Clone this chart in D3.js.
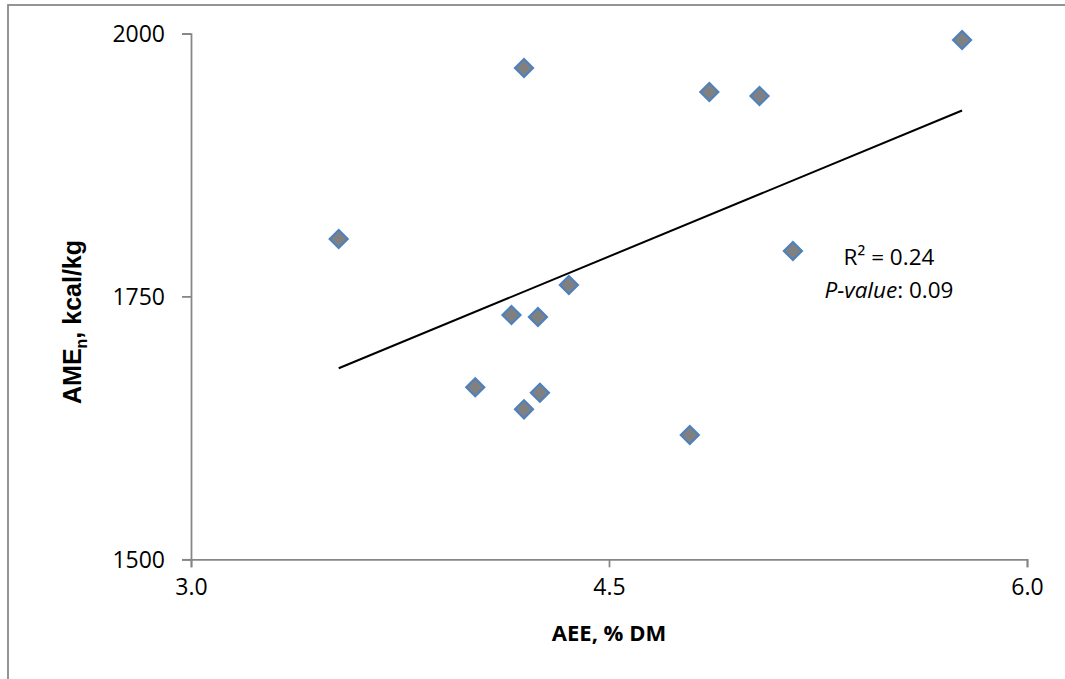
<!DOCTYPE html>
<html>
<head>
<meta charset="utf-8">
<script src="https://cdn.jsdelivr.net/npm/d3@7"></script>
<style>
  html, body { margin: 0; padding: 0; background: #fff; }
  svg { display: block; }
</style>
</head>
<body>
<svg id="chart" width="1065" height="679"></svg>
<script>
// Apparent ether extract (AEE, % DM) vs nitrogen-corrected AME (kcal/kg)
const aee  = [3.53, 4.02, 4.15, 4.195, 4.195, 4.245, 4.252, 4.356, 4.79, 4.86, 5.04, 5.16, 5.767];
const amen = [1804.6, 1663.6, 1732.3, 1967.2, 1642.6, 1730.4, 1658.4, 1760.8, 1618.2, 1944.4, 1940.6, 1793.2, 1993.8];

const xTicks = [3.0, 4.5, 6.0];
const yTicks = [1500, 1750, 2000];
const statLines = ["R² = 0.24", "P-value: 0.09"];

const svg = d3.select("#chart");
const W = 1065, H = 679;
const plot = { left: 191, right: 1027, top: 33.5, bottom: 559.3 };
const axisColor = "#868686";
const tickFont = "'Open Sans', sans-serif";

// outer chart frame
svg.append("rect")
  .attr("x", 8).attr("y", 5)
  .attr("width", W + 20).attr("height", H + 20)
  .attr("fill", "none").attr("stroke", axisColor).attr("stroke-width", 1.75);

const x = d3.scaleLinear().domain([3, 6]).range([plot.left, plot.right]);
const y = d3.scaleLinear().domain([1500, 2000]).range([plot.bottom, plot.top]);

// x axis
const xAxis = svg.append("g")
  .attr("transform", `translate(0,${plot.bottom})`)
  .call(d3.axisBottom(x).tickValues(xTicks).tickFormat(d3.format(".1f")).tickSize(8).tickPadding(6));
// y axis
const yAxis = svg.append("g")
  .attr("transform", `translate(${plot.left},0)`)
  .call(d3.axisLeft(y).tickValues(yTicks).tickFormat(d3.format("d")).tickSize(9).tickPadding(17));

[xAxis, yAxis].forEach(g => {
  g.select(".domain").attr("stroke", axisColor).attr("stroke-width", 1.75);
  g.selectAll(".tick line").attr("stroke", axisColor).attr("stroke-width", 1.75);
  g.selectAll(".tick text").attr("fill", "#000")
    .style("font-family", tickFont).style("font-size", "23px");
});
xAxis.selectAll(".tick text").attr("dy", "0.95em");
yAxis.selectAll(".tick text").attr("dy", "0.35em");

// least-squares trendline over the data range
const mx = d3.mean(aee), my = d3.mean(amen);
let sxy = 0, sxx = 0;
aee.forEach((v, i) => { sxy += (v - mx) * (amen[i] - my); sxx += (v - mx) * (v - mx); });
const slope = sxy / sxx, icpt = my - slope * mx;
const [x0, x1] = d3.extent(aee);
svg.append("line")
  .attr("x1", x(x0)).attr("y1", y(icpt + slope * x0))
  .attr("x2", x(x1)).attr("y2", y(icpt + slope * x1))
  .attr("stroke", "#000").attr("stroke-width", 2);

// diamond markers
const r = 9;
const diamond = `M0,${-r}L${r},0L0,${r}L${-r},0Z`;
svg.append("g").selectAll("path")
  .data(aee.map((v, i) => [v, amen[i]]))
  .join("path")
  .attr("d", diamond)
  .attr("transform", d => `translate(${x(d[0])},${y(d[1])})`)
  .attr("fill", "#808080")
  .attr("stroke", "#4F81BD")
  .attr("stroke-width", 2.2);

// regression statistics
const stat = svg.append("g").style("font-family", tickFont).style("font-size", "22.5px").attr("fill", "#000");
stat.append("text").attr("x", 889).attr("y", 265).attr("text-anchor", "middle").text(statLines[0]);
const pTxt = stat.append("text").attr("x", 889).attr("y", 298).attr("text-anchor", "middle");
const [pLab, pVal] = statLines[1].split(":");
pTxt.append("tspan").style("font-style", "italic").text(pLab);
pTxt.append("tspan").text(":" + pVal);

// axis titles
svg.append("text")
  .attr("x", 609).attr("y", 641)
  .attr("text-anchor", "middle")
  .style("font-family", tickFont).style("font-size", "22px").style("font-weight", "bold")
  .text("AEE, % DM");

const yTitle = svg.append("text")
  .attr("transform", `translate(81,322) rotate(-90)`)
  .attr("text-anchor", "middle")
  .style("font-family", "'Liberation Sans', Arial, sans-serif").style("font-size", "25px").style("font-weight", "bold");
yTitle.append("tspan").text("AME");
yTitle.append("tspan").attr("dy", 6).style("font-size", "16px").text("n");
yTitle.append("tspan").attr("dy", -6).text(", kcal/kg");
</script>
</body>
</html>
